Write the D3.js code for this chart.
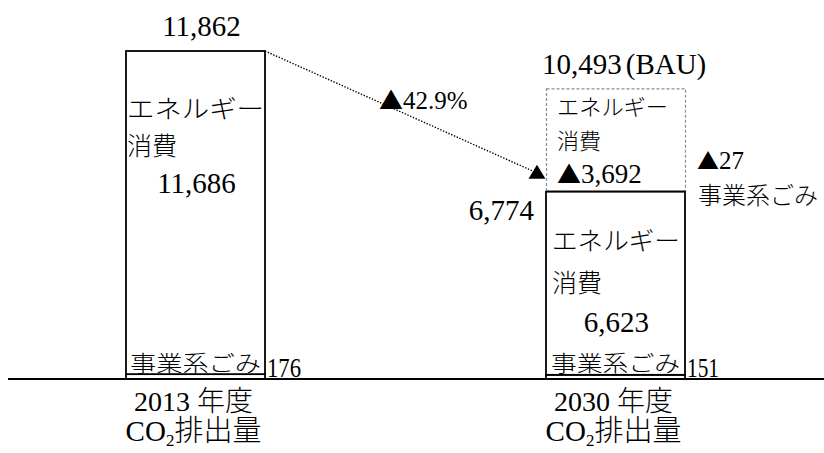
<!DOCTYPE html>
<html>
<head>
<meta charset="utf-8">
<script src="https://cdn.jsdelivr.net/npm/d3@7"></script>
<style>
  html, body { margin: 0; padding: 0; background: #fff; }
  svg { display: block; }
</style>
</head>
<body>
<script>
// CO2 emissions (t-CO2): 2013 actual vs 2030 target, with reductions from BAU
const years = ["2013", "2030"];
const yearLabels = ["2013 年度", "2030 年度"];
const energy = [11686, 6623];   // エネルギー消費
const waste = [176, 151];       // 事業系ごみ
const cutWaste = 27;            // 2030 reduction from BAU: 事業系ごみ
const cutEnergy = 3692;         // 2030 reduction from BAU: エネルギー消費

const W = 824, H = 453;
const LATIN = "'Liberation Serif', 'Noto Sans CJK JP', serif";
const CJK = "'Noto Sans CJK JP', sans-serif";
const fmt = d3.format(",");

const svg = d3.select("body").append("svg")
  .attr("width", W).attr("height", H)
  .attr("viewBox", `0 0 ${W} ${H}`);

const totals = energy.map((e, i) => e + waste[i]);
const bauTotal = totals[1] + cutWaste + cutEnergy;
const reduction = (totals[0] - totals[1]) / totals[0] * 100;

const x = d3.scaleBand().domain(years)
  .range([42, 769]).paddingInner(0.669).paddingOuter(0.2);
const y = d3.scaleLinear().domain([0, 12000]).range([379, 47.2]);
const bw = x.bandwidth();

// --- reductions from BAU, stacked dashed on top of 2030
const bauSegs = [
  { key: "waste", v0: totals[1], v1: totals[1] + cutWaste },
  { key: "energy", v0: totals[1] + cutWaste, v1: bauTotal }
];
svg.append("g").selectAll("rect").data(bauSegs).join("rect")
  .attr("x", x("2030") + 0.5)
  .attr("width", bw)
  .attr("y", d => y(d.v1))
  .attr("height", d => Math.max(0.5, y(d.v0) - y(d.v1)))
  .attr("fill", "none")
  .attr("stroke", "#8c8c8c")
  .attr("stroke-width", 1.2)
  .attr("stroke-dasharray", "3,2");

// --- actual emissions, stacked solid
const segs = [];
years.forEach((yr, i) => {
  segs.push({ yr, key: "waste", v0: 0, v1: waste[i] });
  segs.push({ yr, key: "energy", v0: waste[i], v1: totals[i] });
});
svg.append("g").selectAll("rect").data(segs).join("rect")
  .attr("x", d => x(d.yr))
  .attr("width", bw)
  .attr("y", d => y(d.v1))
  .attr("height", d => y(d.v0) - y(d.v1))
  .attr("fill", "#fff")
  .attr("stroke", "#000")
  .attr("stroke-width", 1.8);

// baseline
svg.append("line")
  .attr("x1", 8).attr("x2", W).attr("y1", y(0)).attr("y2", y(0))
  .attr("stroke", "#000").attr("stroke-width", 2);

// text helper
function label(px, py, str, size, opts = {}) {
  const t = svg.append("text")
    .attr("x", px).attr("y", py)
    .attr("font-family", opts.family || LATIN)
    .attr("font-weight", 300)
    .attr("font-size", size)
    .attr("fill", "#000")
    .attr("text-anchor", opts.anchor || "start");
  if (opts.tri) {
    t.append("tspan").attr("font-family", CJK).attr("font-size", opts.tri).text("▲");
    t.append("tspan").text(str);
  } else {
    t.text(str);
  }
  if (opts.len) t.attr("textLength", opts.len).attr("lengthAdjust", opts.adjust || "spacingAndGlyphs");
  return t;
}

// --- 2013 bar labels
const x13 = x("2013"), x30 = x("2030");
const top13 = y(totals[0]), top30 = y(totals[1]);
label(x13 + bw / 2 + 6, top13 - 15, fmt(totals[0]), 29, { anchor: "middle" });
label(x13 + 1, top13 + 67, "エネルギー", 25, { family: CJK, len: bw - 2 });
label(x13 + 1, top13 + 104, "消費", 25, { family: CJK });
label(x13 + bw / 2 + 1, top13 + 142, fmt(energy[0]), 29, { anchor: "middle" });
label(x13 + 4, y(0) - 8, "事業系ごみ", 22, { family: CJK, len: bw - 8 });
label(x13 + bw + 2, y(0) - 2, fmt(waste[0]), 27, { len: 34 });

// --- 2030 bar labels
label(x30 - 12, top30 + 28, fmt(totals[1]), 29, { anchor: "end" });
label(x30 + 6, top30 + 58, "エネルギー", 25, { family: CJK, len: 128 });
label(x30 + 6, top30 + 100, "消費", 25, { family: CJK });
label(x30 + bw / 2 + 1, top30 + 140, fmt(energy[1]), 29, { anchor: "middle" });
label(x30 + 5, y(0) - 8, "事業系ごみ", 22, { family: CJK, len: bw - 10 });
label(x30 + bw + 2, y(0) - 2, fmt(waste[1]), 27, { len: 32 });

// --- BAU reduction labels
const topBau = y(bauTotal);
const yWaste = y(totals[1] + cutWaste);
const bauLabel = label(x30 - 4, topBau - 15, fmt(bauTotal), 29);
bauLabel.append("tspan").attr("dx", 4).text("(BAU)");
label(x30 + 11, topBau + 26, "エネルギー", 22, { family: CJK, len: 111 });
label(x30 + 11, topBau + 60, "消費", 22, { family: CJK });
label(x30 + 11, topBau + 94, fmt(cutEnergy), 27, { tri: 24 });
label(x30 + bw + 12, yWaste - 22, String(cutWaste), 25, { tri: 22 });
label(x30 + bw + 13, yWaste + 13, "事業系ごみ", 24, { family: CJK });

// --- change arrow from 2013 total to 2030 total
const tipX = x30 - 9, tipBase = top30 - 13;
svg.append("line")
  .attr("x1", x13 + bw).attr("y1", top13)
  .attr("x2", tipX - 5).attr("y2", tipBase - 8)
  .attr("stroke", "#000").attr("stroke-width", 1.4)
  .attr("stroke-dasharray", "1.4,1.6");
svg.append("path")
  .attr("d", `M${tipX},${tipBase - 14}L${tipX + 8.5},${tipBase}L${tipX - 8.5},${tipBase}Z`)
  .attr("fill", "#000");
label(379, 109, reduction.toFixed(1) + "%", 25, { tri: 24 });

// --- category labels under the baseline
years.forEach((yr, i) => {
  const cx = x(yr) + bw / 2 - 2;
  label(cx, 411, yearLabels[i], 28, { anchor: "middle" });
  const t = label(cx, 441, "", 29, { anchor: "middle" });
  t.append("tspan").text("CO");
  t.append("tspan").attr("font-size", 17).attr("dy", 5).text("2");
  t.append("tspan").attr("dy", -5).text("排出量");
});
</script>
</body>
</html>
